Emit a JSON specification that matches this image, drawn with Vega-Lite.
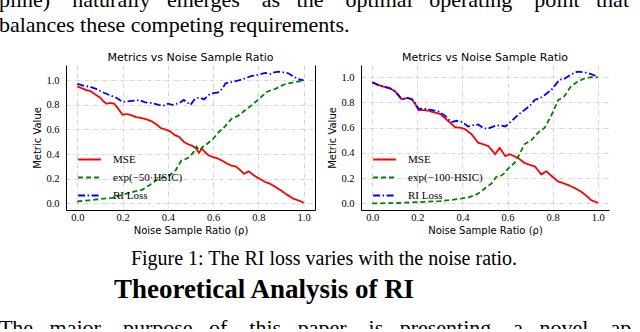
{
  "$schema": "https://vega.github.io/schema/vega-lite/v6.json",
  "background": "white",
  "padding": {"left": -2, "top": -11, "right": 0, "bottom": -10},
  "config": {
    "view": {"stroke": null},
    "font": "Liberation Serif",
    "axis": {
      "domainColor": "black", "domainWidth": 1, "tickSize": 0,
      "labelFont": "Liberation Serif", "labelFontSize": 10.5, "labelColor": "black",
      "titleFont": "DejaVu Sans", "titleFontSize": 10, "titleFontWeight": "normal", "titleColor": "black",
      "gridColor": "#c8c8c8", "gridDash": [4, 2, 1, 2], "gridWidth": 0.8
    },
    "axisX": {"labelPadding": 2, "titlePadding": 3},
    "axisY": {"labelPadding": 7, "titlePadding": 3}
  },
  "datasets": {
    "left": [
      {"r": 0.0, "v": 0.95, "m": "MSE"}, {"r": 0.02, "v": 0.935, "m": "MSE"}, {"r": 0.04, "v": 0.92, "m": "MSE"}, {"r": 0.06, "v": 0.91, "m": "MSE"}, {"r": 0.083, "v": 0.88, "m": "MSE"}, {"r": 0.1, "v": 0.86, "m": "MSE"}, {"r": 0.115, "v": 0.83, "m": "MSE"}, {"r": 0.128, "v": 0.81, "m": "MSE"}, {"r": 0.145, "v": 0.815, "m": "MSE"}, {"r": 0.163, "v": 0.81, "m": "MSE"}, {"r": 0.18, "v": 0.77, "m": "MSE"}, {"r": 0.2, "v": 0.72, "m": "MSE"}, {"r": 0.22, "v": 0.725, "m": "MSE"}, {"r": 0.24, "v": 0.715, "m": "MSE"}, {"r": 0.26, "v": 0.7, "m": "MSE"}, {"r": 0.28, "v": 0.695, "m": "MSE"}, {"r": 0.31, "v": 0.68, "m": "MSE"}, {"r": 0.33, "v": 0.665, "m": "MSE"}, {"r": 0.35, "v": 0.64, "m": "MSE"}, {"r": 0.37, "v": 0.61, "m": "MSE"}, {"r": 0.39, "v": 0.6, "m": "MSE"}, {"r": 0.41, "v": 0.585, "m": "MSE"}, {"r": 0.43, "v": 0.555, "m": "MSE"}, {"r": 0.45, "v": 0.54, "m": "MSE"}, {"r": 0.47, "v": 0.5, "m": "MSE"}, {"r": 0.49, "v": 0.48, "m": "MSE"}, {"r": 0.51, "v": 0.465, "m": "MSE"}, {"r": 0.525, "v": 0.445, "m": "MSE"}, {"r": 0.537, "v": 0.41, "m": "MSE"}, {"r": 0.55, "v": 0.445, "m": "MSE"}, {"r": 0.565, "v": 0.415, "m": "MSE"}, {"r": 0.58, "v": 0.39, "m": "MSE"}, {"r": 0.6, "v": 0.375, "m": "MSE"}, {"r": 0.62, "v": 0.365, "m": "MSE"}, {"r": 0.647, "v": 0.34, "m": "MSE"}, {"r": 0.665, "v": 0.32, "m": "MSE"}, {"r": 0.683, "v": 0.305, "m": "MSE"}, {"r": 0.7, "v": 0.3, "m": "MSE"}, {"r": 0.72, "v": 0.27, "m": "MSE"}, {"r": 0.736, "v": 0.24, "m": "MSE"}, {"r": 0.757, "v": 0.26, "m": "MSE"}, {"r": 0.775, "v": 0.235, "m": "MSE"}, {"r": 0.79, "v": 0.215, "m": "MSE"}, {"r": 0.81, "v": 0.195, "m": "MSE"}, {"r": 0.83, "v": 0.174, "m": "MSE"}, {"r": 0.85, "v": 0.16, "m": "MSE"}, {"r": 0.875, "v": 0.133, "m": "MSE"}, {"r": 0.9, "v": 0.105, "m": "MSE"}, {"r": 0.92, "v": 0.077, "m": "MSE"}, {"r": 0.94, "v": 0.055, "m": "MSE"}, {"r": 0.956, "v": 0.036, "m": "MSE"}, {"r": 0.975, "v": 0.025, "m": "MSE"}, {"r": 1.0, "v": 0.006, "m": "MSE"},
      {"r": 0.0, "v": 0.015, "m": "exp(−50·HSIC)"}, {"r": 0.05, "v": 0.025, "m": "exp(−50·HSIC)"}, {"r": 0.1, "v": 0.035, "m": "exp(−50·HSIC)"}, {"r": 0.154, "v": 0.045, "m": "exp(−50·HSIC)"}, {"r": 0.2, "v": 0.07, "m": "exp(−50·HSIC)"}, {"r": 0.25, "v": 0.095, "m": "exp(−50·HSIC)"}, {"r": 0.286, "v": 0.11, "m": "exp(−50·HSIC)"}, {"r": 0.32, "v": 0.15, "m": "exp(−50·HSIC)"}, {"r": 0.35, "v": 0.19, "m": "exp(−50·HSIC)"}, {"r": 0.38, "v": 0.21, "m": "exp(−50·HSIC)"}, {"r": 0.41, "v": 0.23, "m": "exp(−50·HSIC)"}, {"r": 0.435, "v": 0.27, "m": "exp(−50·HSIC)"}, {"r": 0.46, "v": 0.35, "m": "exp(−50·HSIC)"}, {"r": 0.48, "v": 0.36, "m": "exp(−50·HSIC)"}, {"r": 0.497, "v": 0.38, "m": "exp(−50·HSIC)"}, {"r": 0.515, "v": 0.42, "m": "exp(−50·HSIC)"}, {"r": 0.526, "v": 0.46, "m": "exp(−50·HSIC)"}, {"r": 0.54, "v": 0.43, "m": "exp(−50·HSIC)"}, {"r": 0.555, "v": 0.46, "m": "exp(−50·HSIC)"}, {"r": 0.568, "v": 0.475, "m": "exp(−50·HSIC)"}, {"r": 0.6, "v": 0.525, "m": "exp(−50·HSIC)"}, {"r": 0.625, "v": 0.58, "m": "exp(−50·HSIC)"}, {"r": 0.65, "v": 0.62, "m": "exp(−50·HSIC)"}, {"r": 0.683, "v": 0.69, "m": "exp(−50·HSIC)"}, {"r": 0.71, "v": 0.71, "m": "exp(−50·HSIC)"}, {"r": 0.744, "v": 0.76, "m": "exp(−50·HSIC)"}, {"r": 0.765, "v": 0.79, "m": "exp(−50·HSIC)"}, {"r": 0.788, "v": 0.825, "m": "exp(−50·HSIC)"}, {"r": 0.81, "v": 0.86, "m": "exp(−50·HSIC)"}, {"r": 0.837, "v": 0.905, "m": "exp(−50·HSIC)"}, {"r": 0.856, "v": 0.92, "m": "exp(−50·HSIC)"}, {"r": 0.876, "v": 0.93, "m": "exp(−50·HSIC)"}, {"r": 0.9, "v": 0.955, "m": "exp(−50·HSIC)"}, {"r": 0.92, "v": 0.97, "m": "exp(−50·HSIC)"}, {"r": 0.95, "v": 0.98, "m": "exp(−50·HSIC)"}, {"r": 0.975, "v": 0.99, "m": "exp(−50·HSIC)"}, {"r": 1.0, "v": 0.995, "m": "exp(−50·HSIC)"},
      {"r": 0.0, "v": 0.97, "m": "RI Loss"}, {"r": 0.03, "v": 0.955, "m": "RI Loss"}, {"r": 0.06, "v": 0.945, "m": "RI Loss"}, {"r": 0.083, "v": 0.93, "m": "RI Loss"}, {"r": 0.11, "v": 0.905, "m": "RI Loss"}, {"r": 0.141, "v": 0.88, "m": "RI Loss"}, {"r": 0.17, "v": 0.86, "m": "RI Loss"}, {"r": 0.2, "v": 0.825, "m": "RI Loss"}, {"r": 0.23, "v": 0.83, "m": "RI Loss"}, {"r": 0.26, "v": 0.835, "m": "RI Loss"}, {"r": 0.273, "v": 0.84, "m": "RI Loss"}, {"r": 0.3, "v": 0.82, "m": "RI Loss"}, {"r": 0.33, "v": 0.815, "m": "RI Loss"}, {"r": 0.36, "v": 0.8, "m": "RI Loss"}, {"r": 0.38, "v": 0.795, "m": "RI Loss"}, {"r": 0.4, "v": 0.81, "m": "RI Loss"}, {"r": 0.42, "v": 0.8, "m": "RI Loss"}, {"r": 0.45, "v": 0.815, "m": "RI Loss"}, {"r": 0.47, "v": 0.84, "m": "RI Loss"}, {"r": 0.5, "v": 0.8, "m": "RI Loss"}, {"r": 0.52, "v": 0.85, "m": "RI Loss"}, {"r": 0.54, "v": 0.86, "m": "RI Loss"}, {"r": 0.56, "v": 0.845, "m": "RI Loss"}, {"r": 0.58, "v": 0.88, "m": "RI Loss"}, {"r": 0.6, "v": 0.895, "m": "RI Loss"}, {"r": 0.62, "v": 0.9, "m": "RI Loss"}, {"r": 0.64, "v": 0.93, "m": "RI Loss"}, {"r": 0.655, "v": 0.975, "m": "RI Loss"}, {"r": 0.68, "v": 0.985, "m": "RI Loss"}, {"r": 0.713, "v": 1.0, "m": "RI Loss"}, {"r": 0.74, "v": 1.015, "m": "RI Loss"}, {"r": 0.77, "v": 1.035, "m": "RI Loss"}, {"r": 0.8, "v": 1.045, "m": "RI Loss"}, {"r": 0.83, "v": 1.06, "m": "RI Loss"}, {"r": 0.853, "v": 1.05, "m": "RI Loss"}, {"r": 0.87, "v": 1.065, "m": "RI Loss"}, {"r": 0.89, "v": 1.07, "m": "RI Loss"}, {"r": 0.91, "v": 1.065, "m": "RI Loss"}, {"r": 0.934, "v": 1.055, "m": "RI Loss"}, {"r": 0.955, "v": 1.03, "m": "RI Loss"}, {"r": 0.975, "v": 1.01, "m": "RI Loss"}, {"r": 1.0, "v": 1.0, "m": "RI Loss"}
    ],
    "right": [
      {"r": 0.0, "v": 0.96, "m": "MSE"}, {"r": 0.025, "v": 0.94, "m": "MSE"}, {"r": 0.05, "v": 0.925, "m": "MSE"}, {"r": 0.075, "v": 0.915, "m": "MSE"}, {"r": 0.1, "v": 0.89, "m": "MSE"}, {"r": 0.115, "v": 0.86, "m": "MSE"}, {"r": 0.13, "v": 0.825, "m": "MSE"}, {"r": 0.155, "v": 0.835, "m": "MSE"}, {"r": 0.175, "v": 0.825, "m": "MSE"}, {"r": 0.19, "v": 0.79, "m": "MSE"}, {"r": 0.205, "v": 0.74, "m": "MSE"}, {"r": 0.225, "v": 0.74, "m": "MSE"}, {"r": 0.25, "v": 0.735, "m": "MSE"}, {"r": 0.275, "v": 0.72, "m": "MSE"}, {"r": 0.3, "v": 0.71, "m": "MSE"}, {"r": 0.32, "v": 0.68, "m": "MSE"}, {"r": 0.345, "v": 0.64, "m": "MSE"}, {"r": 0.368, "v": 0.603, "m": "MSE"}, {"r": 0.39, "v": 0.6, "m": "MSE"}, {"r": 0.41, "v": 0.59, "m": "MSE"}, {"r": 0.44, "v": 0.55, "m": "MSE"}, {"r": 0.47, "v": 0.48, "m": "MSE"}, {"r": 0.49, "v": 0.47, "m": "MSE"}, {"r": 0.515, "v": 0.455, "m": "MSE"}, {"r": 0.545, "v": 0.39, "m": "MSE"}, {"r": 0.565, "v": 0.44, "m": "MSE"}, {"r": 0.59, "v": 0.375, "m": "MSE"}, {"r": 0.61, "v": 0.39, "m": "MSE"}, {"r": 0.647, "v": 0.36, "m": "MSE"}, {"r": 0.676, "v": 0.32, "m": "MSE"}, {"r": 0.7, "v": 0.305, "m": "MSE"}, {"r": 0.72, "v": 0.295, "m": "MSE"}, {"r": 0.75, "v": 0.23, "m": "MSE"}, {"r": 0.772, "v": 0.255, "m": "MSE"}, {"r": 0.8, "v": 0.21, "m": "MSE"}, {"r": 0.824, "v": 0.175, "m": "MSE"}, {"r": 0.868, "v": 0.147, "m": "MSE"}, {"r": 0.9, "v": 0.12, "m": "MSE"}, {"r": 0.926, "v": 0.094, "m": "MSE"}, {"r": 0.95, "v": 0.06, "m": "MSE"}, {"r": 0.97, "v": 0.027, "m": "MSE"}, {"r": 1.0, "v": 0.005, "m": "MSE"},
      {"r": 0.0, "v": 0.0, "m": "exp(−100·HSIC)"}, {"r": 0.1, "v": 0.003, "m": "exp(−100·HSIC)"}, {"r": 0.2, "v": 0.01, "m": "exp(−100·HSIC)"}, {"r": 0.3, "v": 0.018, "m": "exp(−100·HSIC)"}, {"r": 0.36, "v": 0.03, "m": "exp(−100·HSIC)"}, {"r": 0.4, "v": 0.04, "m": "exp(−100·HSIC)"}, {"r": 0.43, "v": 0.05, "m": "exp(−100·HSIC)"}, {"r": 0.455, "v": 0.065, "m": "exp(−100·HSIC)"}, {"r": 0.48, "v": 0.09, "m": "exp(−100·HSIC)"}, {"r": 0.5, "v": 0.12, "m": "exp(−100·HSIC)"}, {"r": 0.515, "v": 0.14, "m": "exp(−100·HSIC)"}, {"r": 0.53, "v": 0.16, "m": "exp(−100·HSIC)"}, {"r": 0.55, "v": 0.21, "m": "exp(−100·HSIC)"}, {"r": 0.565, "v": 0.215, "m": "exp(−100·HSIC)"}, {"r": 0.58, "v": 0.23, "m": "exp(−100·HSIC)"}, {"r": 0.6, "v": 0.27, "m": "exp(−100·HSIC)"}, {"r": 0.63, "v": 0.32, "m": "exp(−100·HSIC)"}, {"r": 0.65, "v": 0.38, "m": "exp(−100·HSIC)"}, {"r": 0.675, "v": 0.47, "m": "exp(−100·HSIC)"}, {"r": 0.705, "v": 0.5, "m": "exp(−100·HSIC)"}, {"r": 0.735, "v": 0.56, "m": "exp(−100·HSIC)"}, {"r": 0.765, "v": 0.6, "m": "exp(−100·HSIC)"}, {"r": 0.795, "v": 0.7, "m": "exp(−100·HSIC)"}, {"r": 0.825, "v": 0.82, "m": "exp(−100·HSIC)"}, {"r": 0.85, "v": 0.845, "m": "exp(−100·HSIC)"}, {"r": 0.88, "v": 0.925, "m": "exp(−100·HSIC)"}, {"r": 0.91, "v": 0.965, "m": "exp(−100·HSIC)"}, {"r": 0.94, "v": 0.99, "m": "exp(−100·HSIC)"}, {"r": 0.97, "v": 1.0, "m": "exp(−100·HSIC)"}, {"r": 1.0, "v": 1.0, "m": "exp(−100·HSIC)"},
      {"r": 0.0, "v": 0.96, "m": "RI Loss"}, {"r": 0.025, "v": 0.94, "m": "RI Loss"}, {"r": 0.05, "v": 0.925, "m": "RI Loss"}, {"r": 0.075, "v": 0.915, "m": "RI Loss"}, {"r": 0.1, "v": 0.89, "m": "RI Loss"}, {"r": 0.115, "v": 0.86, "m": "RI Loss"}, {"r": 0.13, "v": 0.825, "m": "RI Loss"}, {"r": 0.155, "v": 0.837, "m": "RI Loss"}, {"r": 0.175, "v": 0.828, "m": "RI Loss"}, {"r": 0.19, "v": 0.795, "m": "RI Loss"}, {"r": 0.205, "v": 0.75, "m": "RI Loss"}, {"r": 0.225, "v": 0.752, "m": "RI Loss"}, {"r": 0.25, "v": 0.745, "m": "RI Loss"}, {"r": 0.275, "v": 0.735, "m": "RI Loss"}, {"r": 0.295, "v": 0.727, "m": "RI Loss"}, {"r": 0.32, "v": 0.7, "m": "RI Loss"}, {"r": 0.35, "v": 0.645, "m": "RI Loss"}, {"r": 0.375, "v": 0.655, "m": "RI Loss"}, {"r": 0.4, "v": 0.645, "m": "RI Loss"}, {"r": 0.425, "v": 0.61, "m": "RI Loss"}, {"r": 0.45, "v": 0.62, "m": "RI Loss"}, {"r": 0.47, "v": 0.625, "m": "RI Loss"}, {"r": 0.49, "v": 0.6, "m": "RI Loss"}, {"r": 0.51, "v": 0.59, "m": "RI Loss"}, {"r": 0.545, "v": 0.615, "m": "RI Loss"}, {"r": 0.565, "v": 0.62, "m": "RI Loss"}, {"r": 0.59, "v": 0.61, "m": "RI Loss"}, {"r": 0.62, "v": 0.655, "m": "RI Loss"}, {"r": 0.645, "v": 0.7, "m": "RI Loss"}, {"r": 0.675, "v": 0.74, "m": "RI Loss"}, {"r": 0.7, "v": 0.775, "m": "RI Loss"}, {"r": 0.72, "v": 0.82, "m": "RI Loss"}, {"r": 0.745, "v": 0.835, "m": "RI Loss"}, {"r": 0.765, "v": 0.86, "m": "RI Loss"}, {"r": 0.795, "v": 0.9, "m": "RI Loss"}, {"r": 0.83, "v": 0.98, "m": "RI Loss"}, {"r": 0.85, "v": 0.985, "m": "RI Loss"}, {"r": 0.88, "v": 1.02, "m": "RI Loss"}, {"r": 0.91, "v": 1.045, "m": "RI Loss"}, {"r": 0.94, "v": 1.04, "m": "RI Loss"}, {"r": 0.97, "v": 1.025, "m": "RI Loss"}, {"r": 1.0, "v": 1.005, "m": "RI Loss"}
    ]
  },
  "title": {
    "text": ["pline)\u00a0\u00a0\u00a0 naturally\u00a0\u00a0 emerges\u00a0\u00a0\u00a0 as\u00a0\u00a0 the\u00a0\u00a0\u00a0 optimal\u00a0\u00a0 operating\u00a0\u00a0\u00a0 point\u00a0\u00a0 that", "balances these competing requirements."],
    "anchor": "start", "font": "Liberation Serif", "fontSize": 22, "fontWeight": "normal",
    "lineHeight": 25, "offset": 15, "color": "black"
  },
  "vconcat": [
    {
      "title": {"text": "The\u00a0\u00a0 major\u00a0\u00a0\u00a0 purpose\u00a0\u00a0 of\u00a0\u00a0\u00a0 this\u00a0\u00a0 paper\u00a0\u00a0\u00a0 is\u00a0\u00a0 presenting\u00a0\u00a0\u00a0 a\u00a0\u00a0 novel\u00a0\u00a0\u00a0 ap", "orient": "bottom", "anchor": "start", "dx": -34, "offset": 15, "font": "Liberation Serif", "fontSize": 22, "fontWeight": "normal", "color": "black"},
      "vconcat": [
        {
          "title": {"text": "Theoretical Analysis of RI", "orient": "bottom", "anchor": "start", "dx": 81, "offset": 8, "font": "Liberation Serif", "fontSize": 27, "fontWeight": "bold", "color": "black"},
          "vconcat": [
            {
              "title": {"text": "Figure 1: The RI loss varies with the noise ratio.", "orient": "bottom", "anchor": "start", "dx": 98, "offset": 13, "font": "Liberation Serif", "fontSize": 20, "fontWeight": "normal", "color": "black"},
              "spacing": 12,
              "resolve": {"scale": {"color": "independent", "strokeDash": "independent", "x": "independent", "y": "independent"}, "legend": {"color": "independent", "strokeDash": "independent"}},
              "hconcat": [
                {
                  "width": 249, "height": 145,
                  "title": {"text": "Metrics vs Noise Sample Ratio", "font": "DejaVu Sans", "fontSize": 11, "fontWeight": "normal", "offset": 2, "color": "black", "anchor": "middle"},
                  "data": {"name": "left"},
                  "resolve": {"axis": {"y": "independent"}},
                  "layer": [
                    {
                      "mark": {"type": "line", "strokeWidth": 1.8},
                      "encoding": {
                        "x": {"field": "r", "type": "quantitative", "scale": {"domain": [-0.05, 1.05], "nice": false, "zero": false}, "axis": {"values": [0, 0.2, 0.4, 0.6, 0.8, 1], "format": ".1f", "title": "Noise Sample Ratio (ρ)"}},
                        "y": {"field": "v", "type": "quantitative", "scale": {"domain": [-0.054, 1.124], "nice": false, "zero": false}, "axis": {"values": [0, 0.2, 0.4, 0.6, 0.8, 1], "format": ".1f", "title": "Metric Value"}},
                        "color": {"field": "m", "type": "nominal", "scale": {"domain": ["MSE", "exp(−50·HSIC)", "RI Loss"], "range": ["#ff0000", "#008000", "#0000ff"]}, "legend": {"orient": "none", "legendX": 11, "legendY": 82, "title": null, "symbolType": "stroke", "symbolSize": 520, "symbolStrokeWidth": 1.8, "labelFont": "Liberation Serif", "labelFontSize": 11, "labelColor": "black", "labelOffset": 11, "rowPadding": -5}},
                        "strokeDash": {"field": "m", "type": "nominal", "scale": {"domain": ["MSE", "exp(−50·HSIC)", "RI Loss"], "range": [[1, 0], [5, 3], [7, 2.5, 1.5, 2.5]]}, "legend": {"orient": "none", "legendX": 11, "legendY": 82, "title": null, "symbolType": "stroke", "symbolSize": 520, "symbolStrokeWidth": 1.8, "labelFont": "Liberation Serif", "labelFontSize": 11, "labelColor": "black", "labelOffset": 11, "rowPadding": -5}}
                      }
                    },
                    {
                      "mark": {"type": "line", "opacity": 0},
                      "encoding": {
                        "x": {"field": "r", "type": "quantitative"},
                        "y": {"field": "v", "type": "quantitative", "axis": {"orient": "right", "labels": false, "ticks": false, "grid": false, "title": null, "domainColor": "black"}},
                        "detail": {"field": "m"}
                      }
                    }
                  ]
                },
                {
                  "width": 248, "height": 145,
                  "title": {"text": "Metrics vs Noise Sample Ratio", "font": "DejaVu Sans", "fontSize": 11, "fontWeight": "normal", "offset": 2, "color": "black", "anchor": "middle"},
                  "data": {"name": "right"},
                  "mark": {"type": "line", "strokeWidth": 1.8},
                  "encoding": {
                    "x": {"field": "r", "type": "quantitative", "scale": {"domain": [-0.05, 1.05], "nice": false, "zero": false}, "axis": {"values": [0, 0.2, 0.4, 0.6, 0.8, 1], "format": ".1f", "title": "Noise Sample Ratio (ρ)"}},
                    "y": {"field": "v", "type": "quantitative", "scale": {"domain": [-0.052, 1.097], "nice": false, "zero": false}, "axis": {"values": [0, 0.2, 0.4, 0.6, 0.8, 1], "format": ".1f", "title": "Metric Value"}},
                    "color": {"field": "m", "type": "nominal", "scale": {"domain": ["MSE", "exp(−100·HSIC)", "RI Loss"], "range": ["#ff0000", "#008000", "#0000ff"]}, "legend": {"orient": "none", "legendX": 11, "legendY": 82, "title": null, "symbolType": "stroke", "symbolSize": 520, "symbolStrokeWidth": 1.8, "labelFont": "Liberation Serif", "labelFontSize": 11, "labelColor": "black", "labelOffset": 11, "rowPadding": -5}},
                    "strokeDash": {"field": "m", "type": "nominal", "scale": {"domain": ["MSE", "exp(−100·HSIC)", "RI Loss"], "range": [[1, 0], [5, 3], [7, 2.5, 1.5, 2.5]]}, "legend": {"orient": "none", "legendX": 11, "legendY": 82, "title": null, "symbolType": "stroke", "symbolSize": 520, "symbolStrokeWidth": 1.8, "labelFont": "Liberation Serif", "labelFontSize": 11, "labelColor": "black", "labelOffset": 11, "rowPadding": -5}}
                  }
                }
              ]
            }
          ]
        }
      ]
    }
  ]
}
